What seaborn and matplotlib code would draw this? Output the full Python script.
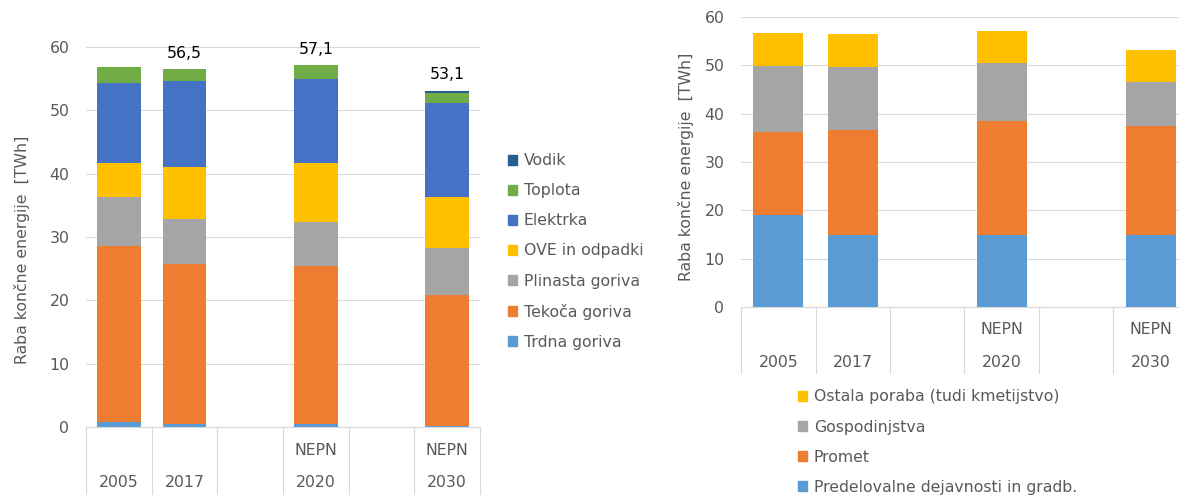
import numpy as np
import pandas as pd
import matplotlib
matplotlib.use("Agg")
import matplotlib.pyplot as plt
import matplotlib.patches as mpatches
import seaborn as sns

# razdelki na osi x (prazna razdelka sta le za razmik)
slots = ["2005", "2017", "_a", "2020", "_b", "2030"]
years = ["2005", "2017", "2020", "2030"]
upper_labels = ["", "", "NEPN", "NEPN"]
total_labels = [None, 56.5, 57.1, 53.1]

# levi graf - raba po energentih [TWh], od spodaj navzgor
fuels = ["Trdna goriva", "Tekoča goriva", "Plinasta goriva", "OVE in odpadki",
         "Elektrka", "Toplota", "Vodik"]
trdna = [0.8, 0.4, 0.4, 0.1]
tekoca = [27.8, 25.4, 25.1, 20.7]
plinasta = [7.7, 7.1, 6.9, 7.5]
ove = [5.4, 8.1, 9.3, 8.0]
elektrka = [12.6, 13.6, 13.3, 14.9]
toplota = [2.5, 1.9, 2.1, 1.6]
vodik = [0.0, 0.0, 0.0, 0.3]
fuel_colors = ["#5B9BD5", "#ED7D31", "#A5A5A5", "#FFC000", "#4472C4", "#70AD47", "#255E91"]

# desni graf - raba po sektorjih [TWh], od spodaj navzgor
sectors = ["Predelovalne dejavnosti in gradb.", "Promet", "Gospodinjstva",
           "Ostala poraba (tudi kmetijstvo)"]
predelovalne = [19.1, 14.9, 14.9, 14.9]
promet = [17.1, 21.8, 23.6, 22.5]
gospodinjstva = [13.7, 13.0, 11.9, 9.1]
ostala = [6.7, 6.8, 6.7, 6.6]
sector_colors = ["#5B9BD5", "#ED7D31", "#A5A5A5", "#FFC000"]

GREY = "#595959"
LINE = "#D9D9D9"
FS = 11.3

sns.set_theme(style="white")
plt.rcParams["font.family"] = ["DejaVu Sans"]


def stacked(ax, names, values, colors):
    df = pd.DataFrame(dict(zip(names, values)), index=years)
    cum = df.cumsum(axis=1)
    # kumulativni stolpci, od zgornjega navzdol
    for name, col in reversed(list(zip(names, colors))):
        sns.barplot(x=years, y=cum[name].values, order=slots, color=col,
                    width=0.67, errorbar=None, saturation=1, linewidth=0, ax=ax)
    return cum


def style_axis(ax, upper_y, year_y, sep_bottom, label_xy):
    ax.set_ylim(0, 60)
    ax.set_yticks(range(0, 61, 10))
    ax.set_xlim(-0.5, 5.5)
    ax.set_xticks([])
    ax.set_xlabel("")
    ax.grid(axis="y", color=LINE, lw=0.8)
    ax.set_axisbelow(True)
    for s in ["top", "right", "left"]:
        ax.spines[s].set_visible(False)
    ax.spines["bottom"].set_color(LINE)
    ax.spines["bottom"].set_linewidth(0.8)
    ax.tick_params(axis="y", length=0, pad=12, labelcolor=GREY, labelsize=FS)
    ax.set_ylabel("Raba končne energije  [TWh]", color=GREY, fontsize=FS)
    ax.yaxis.set_label_coords(*label_xy)

    tr = ax.get_xaxis_transform()
    for x in np.arange(-0.5, 6, 1):
        ax.plot([x, x], [0, sep_bottom], transform=tr, clip_on=False, color=LINE, lw=0.8)
    for yr, up in zip(years, upper_labels):
        x = slots.index(yr)
        ax.text(x, year_y, yr, transform=tr, ha="center", va="center", color=GREY, fontsize=FS)
        if up:
            ax.text(x, upper_y, up, transform=tr, ha="center", va="center", color=GREY, fontsize=FS)


def legend(fig, names, colors, anchor):
    handles = [mpatches.Patch(color=c, label=n) for n, c in zip(names, colors)][::-1]
    fig.legend(handles=handles, loc="center left", bbox_to_anchor=anchor, frameon=False,
               fontsize=FS, labelcolor=GREY, handlelength=0.6, handleheight=0.6,
               handletextpad=0.4, labelspacing=0.96, borderpad=0, borderaxespad=0)


fig = plt.figure(figsize=(11.79, 4.95), dpi=100)

ax1 = fig.add_axes([86 / 1179, 68 / 495, 394 / 1179, 380 / 495])
cum1 = stacked(ax1, fuels, [trdna, tekoca, plinasta, ove, elektrka, toplota, vodik], fuel_colors)
style_axis(ax1, -0.063, -0.147, -0.185, (-0.142, 0.465))
for yr, total in zip(years, total_labels):
    if total is not None:
        ax1.annotate(f"{total:.1f}".replace(".", ","), (slots.index(yr), cum1.loc[yr].iloc[-1]),
                     xytext=(0, 6), textcoords="offset points", ha="center", va="bottom",
                     color="black", fontsize=FS)
legend(fig, fuels, fuel_colors, (508 / 1179, 0.492))

ax2 = fig.add_axes([741 / 1179, 188 / 495, 447 / 1179, 290 / 495])
stacked(ax2, sectors, [predelovalne, promet, gospodinjstva, ostala], sector_colors)
style_axis(ax2, -0.079, -0.193, -0.228, (-0.105, 0.483))
legend(fig, sectors, sector_colors, (798 / 1179, 0.107))

fig.savefig("out.png", dpi=100)
